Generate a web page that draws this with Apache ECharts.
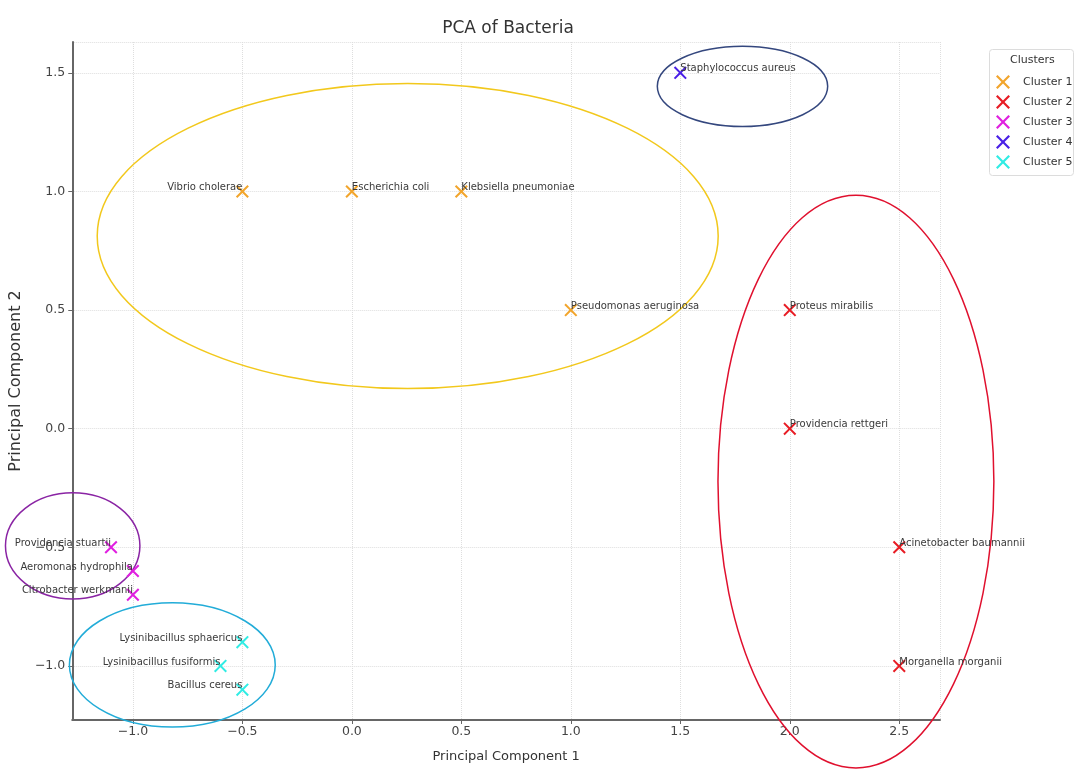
<!DOCTYPE html>
<html>
<head>
<meta charset="utf-8">
<title>PCA of Bacteria</title>
<script src="https://cdn.jsdelivr.net/npm/echarts@6/dist/echarts.min.js"></script>
<style>
  html, body { margin: 0; padding: 0; background: #fff; }
  #chart { width: 1074px; height: 769px; }
</style>
</head>
<body>
<div id="chart"></div>
<script>
// Cluster names and marker colours
const clusterNames = ['Cluster 1', 'Cluster 2', 'Cluster 3', 'Cluster 4', 'Cluster 5'];
const clusterColors = ['#f2a52c', '#e81c24', '#e020e0', '#4a1fe6', '#30ece4'];

// Bacteria and their principal-component scores
const bacteria = [
  'Vibrio cholerae', 'Escherichia coli', 'Klebsiella pneumoniae', 'Pseudomonas aeruginosa',
  'Proteus mirabilis', 'Providencia rettgeri', 'Acinetobacter baumannii', 'Morganella morganii',
  'Providencia stuartii', 'Aeromonas hydrophila', 'Citrobacter werkmanii',
  'Staphylococcus aureus',
  'Lysinibacillus sphaericus', 'Lysinibacillus fusiformis', 'Bacillus cereus'
];
const pc1 = [-0.5, 0.0, 0.5, 1.0, 2.0, 2.0, 2.5, 2.5, -1.1, -1.0, -1.0, 1.5, -0.5, -0.6, -0.5];
const pc2 = [1.0, 1.0, 1.0, 0.5, 0.5, 0.0, -0.5, -1.0, -0.5, -0.6, -0.7, 1.5, -0.9, -1.0, -1.1];
const clusterOf = [0, 0, 0, 0, 1, 1, 1, 1, 2, 2, 2, 3, 4, 4, 4];

// Names whose labels sit to the left of the marker
const leftLabelled = [
  'Vibrio cholerae', 'Providencia stuartii', 'Aeromonas hydrophila', 'Citrobacter werkmanii',
  'Lysinibacillus sphaericus', 'Lysinibacillus fusiformis', 'Bacillus cereus'
];

// Cluster outlines: centre and semi-axes in PC units
const ellipseCenterX = [0.255, 2.302, -1.275, 1.784, -0.820];
const ellipseCenterY = [0.812, -0.223, -0.494, 1.443, -0.996];
const ellipseRadiusX = [1.418, 0.630, 0.307, 0.389, 0.470];
const ellipseRadiusY = [0.643, 1.207, 0.224, 0.169, 0.262];
const ellipseColors = ['#f2c81c', '#e0102e', '#8a24a4', '#34477e', '#22acd8'];

// Axis extents
const xMin = -1.277, xMax = 2.686;
const yMin = -1.228, yMax = 1.63;

const FONT = '"DejaVu Sans", sans-serif';
const X_MARK = 'path://M0,11 L11,0 L50,39 L89,0 L100,11 L61,50 L100,89 L89,100 L50,61 L11,100 L0,89 L39,50 Z';

// Label only the half-unit ticks, with a proper minus sign
function tickFmt(v) {
  const r = Math.round(v * 2) / 2;
  if (Math.abs(r - v) > 1e-6) return '';
  return r.toFixed(1).replace('-', '\u2212');
}

const scatterSeries = clusterNames.map((name, c) => {
  const data = [];
  for (let i = 0; i < bacteria.length; i++) {
    if (clusterOf[i] !== c) continue;
    const left = leftLabelled.indexOf(bacteria[i]) >= 0;
    data.push({
      name: bacteria[i],
      value: [pc1[i], pc2[i]],
      label: { align: left ? 'right' : 'left' }
    });
  }
  return {
    name: name,
    type: 'scatter',
    symbol: X_MARK,
    symbolSize: 13,
    z: 5,
    itemStyle: { color: clusterColors[c], opacity: 1 },
    label: {
      show: true,
      formatter: '{b}',
      position: ['50%', '50%'],
      verticalAlign: 'middle',
      offset: [0, -4],
      fontFamily: FONT,
      fontSize: 10,
      color: '#3a3a3a'
    },
    emphasis: { disabled: true },
    data: data
  };
});

const ellipseData = ellipseCenterX.map((cx, i) => [cx, ellipseCenterY[i], ellipseRadiusX[i], ellipseRadiusY[i], i]);

// Outline around each cluster, drawn through the axes' own scales
const ellipseSeries = {
  name: 'outlines',
  type: 'custom',
  clip: false,
  silent: true,
  z: 2,
  encode: { x: 0, y: 1 },
  data: ellipseData,
  renderItem: function (params, api) {
    const cx = api.value(0), cy = api.value(1), rx = api.value(2), ry = api.value(3);
    const p0 = api.coord([cx - rx, cy + ry]);
    const p1 = api.coord([cx + rx, cy - ry]);
    return {
      type: 'ellipse',
      shape: {
        cx: (p0[0] + p1[0]) / 2,
        cy: (p0[1] + p1[1]) / 2,
        rx: Math.abs(p1[0] - p0[0]) / 2,
        ry: Math.abs(p1[1] - p0[1]) / 2
      },
      style: { fill: 'none', stroke: ellipseColors[api.value(4)], lineWidth: 1.5 }
    };
  }
};

const chart = echarts.init(document.getElementById('chart'), null, { renderer: 'canvas' });

chart.setOption({
  backgroundColor: '#ffffff',
  animation: false,
  title: {
    text: 'PCA of Bacteria',
    left: 503,
    textAlign: 'center',
    top: 15,
    textStyle: { fontFamily: FONT, fontSize: 17, fontWeight: 'normal', color: '#333' }
  },
  grid: { left: 67, top: 42, right: 134, bottom: 49, containLabel: false },
  xAxis: {
    type: 'value',
    min: xMin,
    max: xMax,
    splitNumber: 8,
    name: 'Principal Component 1',
    nameLocation: 'middle',
    nameGap: 30,
    nameTextStyle: { fontFamily: FONT, fontSize: 13, color: '#333' },
    axisLine: { show: true, onZero: false, lineStyle: { color: '#666', width: 2 } },
    axisTick: { show: true, length: 4, lineStyle: { color: '#666' } },
    axisLabel: {
      fontFamily: FONT, fontSize: 12.5, color: '#444', margin: 5,
      showMinLabel: false, showMaxLabel: false, formatter: tickFmt
    },
    splitLine: { show: true, lineStyle: { color: '#dedede', type: 'dotted', width: 1 } }
  },
  yAxis: {
    type: 'value',
    min: yMin,
    max: yMax,
    splitNumber: 6,
    name: 'Principal Component 2',
    nameLocation: 'middle',
    nameGap: 41,
    nameRotate: 90,
    nameTextStyle: { fontFamily: FONT, fontSize: 16, color: '#333' },
    axisLine: { show: true, onZero: false, lineStyle: { color: '#666', width: 2 } },
    axisTick: { show: true, length: 4, lineStyle: { color: '#666' } },
    axisLabel: {
      fontFamily: FONT, fontSize: 12.5, color: '#444', margin: 7,
      showMinLabel: false, showMaxLabel: false, formatter: tickFmt
    },
    splitLine: { show: true, lineStyle: { color: '#dedede', type: 'dotted', width: 1 } }
  },
  legend: {
    data: clusterNames,
    orient: 'vertical',
    left: 996,
    top: 75,
    padding: 0,
    itemWidth: 14,
    itemHeight: 14,
    itemGap: 6,
    icon: X_MARK,
    selectedMode: false,
    textStyle: { fontFamily: FONT, fontSize: 11, color: '#333', padding: [0, 0, 0, 8] }
  },
  graphic: [
    {
      type: 'rect',
      left: 989,
      top: 49,
      shape: { width: 84, height: 126, r: 3 },
      style: { fill: '#fff', stroke: '#dcdcdc', lineWidth: 1 },
      z: -1
    },
    {
      type: 'text',
      left: 1010,
      top: 55,
      style: { text: 'Clusters', fontFamily: FONT, fontSize: 11, fill: '#333' }
    }
  ],
  series: [ellipseSeries].concat(scatterSeries)
});
</script>
</body>
</html>
